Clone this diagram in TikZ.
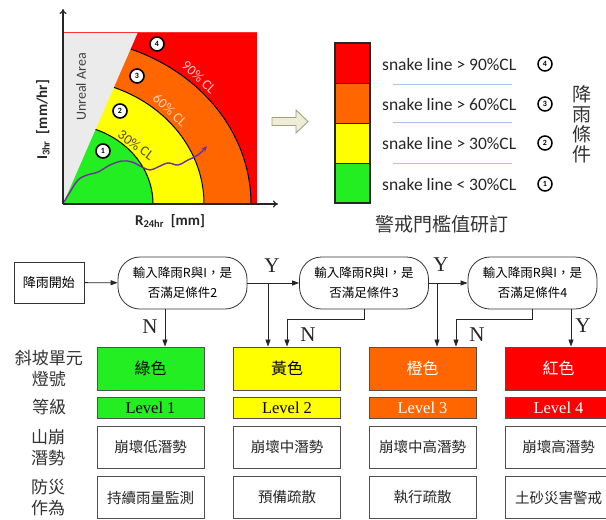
\documentclass[tikz,border=0pt]{standalone}
\usepackage{fontspec}
\setmainfont{Carlito}
\newfontfamily\cjk{Noto Sans CJK TC}
\newfontfamily\tms{Liberation Serif}
\usetikzlibrary{arrows.meta,calc}
\definecolor{cgreen}{HTML}{22EE22}
\definecolor{cyellow}{HTML}{FFFF00}
\definecolor{corange}{HTML}{FF6600}
\definecolor{cred}{HTML}{FF0000}
\definecolor{cgrey}{HTML}{EBEBEB}
\definecolor{snakecol}{HTML}{7030A0}
\definecolor{sepblue}{HTML}{A8C4E8}
\definecolor{boxline}{HTML}{505050}
\tikzset{
  numc/.style={circle,draw=black,line width=1.6pt,fill=white,minimum size=14pt,inner sep=0pt,font=\bfseries\fontsize{8}{8}\selectfont},
  legc/.style={circle,draw=black,line width=1.5pt,fill=white,minimum size=14pt,inner sep=0pt,font=\bfseries\fontsize{8}{8}\selectfont},
  legtxt/.style={anchor=west,inner sep=0pt,font=\fontsize{17.5}{18}\selectfont,text=black!85},
  cllab/.style={inner sep=0pt,font=\fontsize{14}{14}\selectfont},
  stepbox/.style={draw=black!80,line width=0.8pt,fill=white,inner sep=0pt,font=\cjk\fontsize{13}{15}\selectfont},
  decision/.style={draw=black!80,line width=0.8pt,fill=white,rounded corners=22pt,minimum width=129pt,minimum height=52pt,inner sep=0pt,align=center,font=\cjk\fontsize{12.5}{20}\selectfont},
  colbox/.style={draw=boxline,line width=0.9pt,minimum width=107pt,inner sep=0pt,font=\cjk\fontsize{16}{18}\selectfont},
  lvlbox/.style={draw=boxline,line width=0.9pt,minimum width=107pt,minimum height=21pt,inner sep=0pt,font=\tms\fontsize{16.5}{18}\selectfont},
  whbox/.style={draw=boxline,line width=0.9pt,fill=white,minimum width=107pt,minimum height=42pt,inner sep=0pt,font=\cjk\fontsize{14.5}{16}\selectfont,text=black!85},
  rowlab/.style={align=center,inner sep=0pt,font=\cjk\fontsize{17}{21}\selectfont,text=black!80},
  yn/.style={inner sep=0pt,font=\tms\fontsize{21}{21}\selectfont,text=black!85},
  flow/.style={draw=black!85,line width=0.8pt},
  tip/.style={-{Triangle[length=7pt,width=5pt]}},
}
\begin{document}
\begin{tikzpicture}[x=1pt,y=-1pt]
\useasboundingbox (0,0) rectangle (606,520);
\fill[white] (0,0) rectangle (606,520);

% ---------- chart ----------
\begin{scope}
  \clip (63,32) rectangle (257,204);
  \fill[cred] (63,32) rectangle (257,204);
  \filldraw[fill=corange,draw=black,line width=1pt] (63,204) ellipse [x radius=188pt,y radius=166pt];
  \filldraw[fill=cyellow,draw=black,line width=1pt] (63,204) ellipse [x radius=141pt,y radius=125pt];
  \filldraw[fill=cgreen,draw=black,line width=1pt] (63,204) ellipse [x radius=90pt,y radius=80pt];
  \fill[cgrey] (63,32) -- (138,32) -- (63,204) -- cycle;
\end{scope}
\draw[red!80,line width=0.8pt] (63,32) -- (257,32);
\node[rotate=90,inner sep=0pt,font=\fontsize{14}{14}\selectfont,text=black!75] (unreal) at (81,87) {Unreal Area};
\node[cllab,rotate=-36,text=black!80!yellow] (cl30) at (136,145) {30\% CL};
\node[cllab,rotate=-43,text={rgb,255:red,255;green,210;blue,175}] (cl60) at (170,110) {60\% CL};
\node[cllab,rotate=-43,text={rgb,255:red,255;green,200;blue,200}] (cl90) at (199,77) {90\% CL};
\node[numc] (n1) at (103,151) {1};
\node[numc] (n2) at (120,111) {2};
\node[numc] (n3) at (137,76) {3};
\node[numc] (n4) at (157,44) {4};
\draw[snakecol,line width=1.4pt,-{Stealth[length=6pt,width=5pt]}] plot[smooth,tension=0.6] coordinates {(64,202) (70,192) (78,180) (87,175) (98,172) (110,165) (122,161) (132,162) (142,167) (150,170) (158,167) (168,163) (178,165) (188,160) (198,155) (207,146)};
\coordinate (orig) at (63,204);
\coordinate (ytop) at (63,9);
\coordinate (xend) at (278,204);
\draw[black!85,line width=1.2pt,-{To[length=5pt,width=7pt]}] (orig) -- (ytop);
\draw[black!85,line width=1.2pt,-{To[length=5pt,width=7pt]}] (orig) -- (xend);
\node[font=\bfseries\fontsize{15}{15}\selectfont,text=black!85] (xlab) at (170,221) {R\textsubscript{24hr}\ \ [mm]};
\node[rotate=90,font=\bfseries\fontsize{15}{15}\selectfont,text=black!85] (ylab) at (43,120) {I\textsubscript{3hr}\ \ [mm/hr]};

% hollow arrow
\filldraw[fill={rgb,255:red,238;green,238;blue,214},draw={rgb,255:red,160;green,160;blue,130},line width=0.9pt]
  (272,117.5) -- (296,117.5) -- (296,110) -- (308,121.5) -- (296,133) -- (296,125.5) -- (272,125.5) -- cycle;

% ---------- legend ----------
\fill[cred] (335,43) rectangle (370,83);
\fill[corange] (335,83) rectangle (370,123);
\fill[cyellow] (335,123) rectangle (370,163);
\fill[cgreen] (335,163) rectangle (370,203);
\draw[black!85,line width=1.2pt] (335,43) rectangle (370,203);
\draw[black!85,line width=1pt] (335,83) -- (370,83) (335,123) -- (370,123) (335,163) -- (370,163);
\node[legtxt] (t4) at (382,64) {snake line > 90\%CL};
\node[legtxt] (t3) at (382,104) {snake line > 60\%CL};
\node[legtxt] (t2) at (382,143) {snake line > 30\%CL};
\node[legtxt] (t1) at (382,184) {snake line < 30\%CL};
\node[legc] (c4) at (545,64) {4};
\node[legc] (c3) at (545,104) {3};
\node[legc] (c2) at (545,143) {2};
\node[legc] (c1) at (545,184) {1};
\draw[sepblue,line width=1pt] (393,84) -- (512,84) (393,122) -- (512,122) (393,163) -- (512,163);
\node[align=center,inner sep=0pt,font=\cjk\fontsize{19}{20}\selectfont,text=black!80] (cond) at (582,124) {降\\雨\\條\\件};
\node[inner sep=0pt,font=\cjk\fontsize{19}{20}\selectfont,text=black!80] (study) at (442,224) {警戒門檻值研訂};

% ---------- flowchart ----------
\node[stepbox,minimum width=70pt,minimum height=41pt] (start) at (49,282.5) {降雨開始};
\node[decision] (d1) at (182.5,283) {輸入降雨R與I，是\\否滿足條件2};
\node[decision] (d2) at (364,283) {輸入降雨R與I，是\\否滿足條件3};
\node[decision] (d3) at (532.5,283) {輸入降雨R與I，是\\否滿足條件4};

\node[colbox,fill=cgreen,minimum height=43pt] (g) at (150.5,368.5) {綠色};
\node[colbox,fill=cyellow,minimum height=43pt] (y) at (287,368.5) {黃色};
\node[colbox,fill=corange,minimum height=43pt,text=white] (o) at (422.5,368.5) {橙色};
\node[colbox,fill=cred,minimum height=43pt,text=white] (r) at (558.5,368.5) {紅色};

\node[lvlbox,fill=cgreen] (lg) at (150.5,407.5) {Level 1};
\node[lvlbox,fill=cyellow] (ly) at (287,407.5) {Level 2};
\node[lvlbox,fill=corange,text=white] (lo) at (422.5,407.5) {Level 3};
\node[lvlbox,fill=cred,text=white] (lr) at (558.5,407.5) {Level 4};

\node[whbox] (pg) at (150.5,447) {崩壞低潛勢};
\node[whbox] (py) at (287,447) {崩壞中潛勢};
\node[whbox] (po) at (422.5,447) {崩壞中高潛勢};
\node[whbox] (pr) at (558.5,447) {崩壞高潛勢};

\node[whbox] (ag) at (150.5,497.5) {持續雨量監測};
\node[whbox] (ay) at (287,497.5) {預備疏散};
\node[whbox] (ao) at (422.5,497.5) {執行疏散};
\node[whbox] (ar) at (558.5,497.5) {土砂災害警戒};

\node[rowlab] (lab1) at (49,369) {斜坡單元\\燈號};
\node[rowlab] (lab2) at (49,407) {等級};
\node[rowlab] (lab3) at (48,447.5) {山崩\\潛勢};
\node[rowlab] (lab4) at (48,498) {防災\\作為};

% connectors
\draw[flow,tip] (start) -- (d1);
\draw[flow,tip] (d1) -- (d2);
\draw[flow,tip] (d2) -- (d3);
\coordinate (j1) at (268,283);
\coordinate (j2) at (437,283);
\draw[flow,tip] (j1) -- (j1 |- y.north);
\draw[flow,tip] (j2) -- (j2 |- o.north);
\coordinate (n1s) at (165,309);
\draw[flow,tip] (n1s) -- (n1s |- g.north);
\draw[flow,tip] (d2.south) -- ++(0,10) -| (y.north);
\coordinate (n3s) at (532.5,309);
\coordinate (n3d) at (456,319);
\draw[flow,tip] (n3s) |- (n3d) -- (n3d |- o.north);
\coordinate (y3s) at (571,309);
\draw[flow,tip] (y3s) -- (y3s |- r.north);

\node[yn] (Y1) at (272,266) {Y};
\node[yn] (Y2) at (441,265) {Y};
\node[yn] (Y3) at (583,326) {Y};
\node[yn] (N1) at (150,327) {N};
\node[yn] (N2) at (308,335) {N};
\node[yn] (N3) at (477,335) {N};
\end{tikzpicture}
\end{document}
